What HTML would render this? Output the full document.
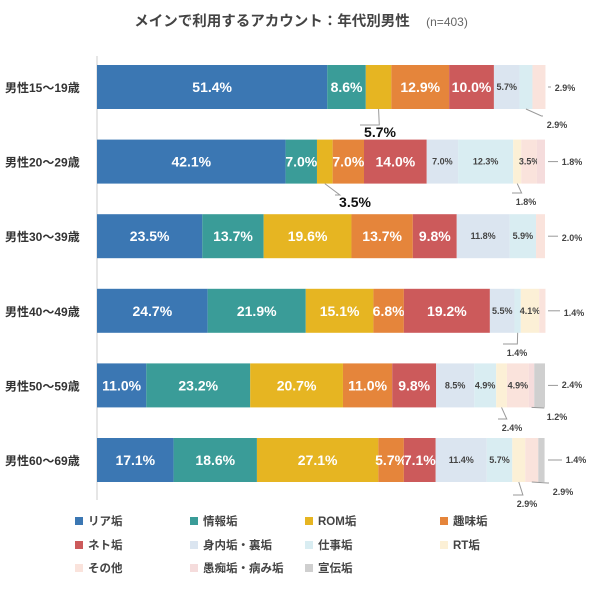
<!DOCTYPE html>
<html><head><meta charset="utf-8"><style>
body{margin:0;background:#fff;font-family:"Liberation Sans","Noto Sans CJK JP",sans-serif;}
svg text{font-family:"Liberation Sans","Noto Sans CJK JP",sans-serif;}
</style></head><body>
<svg id="chart" width="600" height="588" viewBox="0 0 600 588" xmlns="http://www.w3.org/2000/svg">
<rect width="600" height="588" fill="#fff"/>
<text x="272" y="26" text-anchor="middle" font-size="14.5" font-weight="bold" fill="#444">メインで利用するアカウント：年代別男性</text>
<text x="447" y="26" text-anchor="middle" font-size="12" fill="#666">(n=403)</text>
<line x1="97" y1="56" x2="97" y2="500" stroke="#ccc" stroke-width="1"/>
<g id="bars"></g>
<g id="legend"></g>
</svg>
<script>
const rows = ["男性15〜19歳","男性20〜29歳","男性30〜39歳","男性40〜49歳","男性50〜59歳","男性60〜69歳"];
const categories = ["リア垢","情報垢","ROM垢","趣味垢","ネト垢","身内垢・裏垢","仕事垢","RT垢","その他","愚痴垢・病み垢","宣伝垢"];
const colors = ["#3b77b3","#3a9c98","#e6b522","#e5853b","#cc5a5b","#dbe5f0","#d9edf2","#fcf0d6","#fae3dc","#f5dcdc","#cfcfcf"];
const v0 = [51.4,8.6,5.7,12.9,10.0,5.7,2.9,0,2.9,0,0];
const v1 = [42.1,7.0,3.5,7.0,14.0,7.0,12.3,1.8,3.5,1.8,0];
const v2 = [23.5,13.7,19.6,13.7,9.8,11.8,5.9,0,2.0,0,0];
const v3 = [24.7,21.9,15.1,6.8,19.2,5.5,1.4,4.1,1.4,0,0];
const v4 = [11.0,23.2,20.7,11.0,9.8,8.5,4.9,2.4,4.9,1.2,2.4];
const v5 = [17.1,18.6,27.1,5.7,7.1,11.4,5.7,2.9,2.9,0,1.4];
const values = [v0,v1,v2,v3,v4,v5];
// callouts: [row, category, text x, text y, big]
const callouts = [
 [0,2,380,137,1],[0,6,557,128,0],[0,8,565,91,0],
 [1,2,355,207,1],[1,7,526,205,0],[1,9,572,165,0],
 [2,8,572,241,0],
 [3,6,517,356,0],[3,8,574,316,0],
 [4,7,512,431,0],[4,9,557,420,0],[4,10,572,388,0],
 [5,10,576,463,0],[5,7,527,507,0],[5,8,563,495,0]
];
const NS="http://www.w3.org/2000/svg";
const X0=97, W=448, Y0=65, STEP=74.6, BH=44;
const xs = v => v/100*W;
const ry = i => Y0 + i*STEP;
const g=document.getElementById('bars');
function mk(t,a){const e=document.createElementNS(NS,t);for(const k in a)e.setAttribute(k,a[k]);return e;}
const isCall=(r,c)=>callouts.some(o=>o[0]===r&&o[1]===c);
const segX = (r,c)=>{let s=0;for(let k=0;k<c;k++)s+=values[r][k];return X0+xs(s);};
rows.forEach((name,r)=>{
  const lab=mk('text',{x:5,y:ry(r)+BH/2+5,'font-size':12,'font-weight':'bold',fill:'#333'});
  lab.textContent=name;
  
  
  g.appendChild(lab);
  values[r].forEach((v,c)=>{
    if(v<=0)return;
    const x=segX(r,c), w=xs(v);
    const rect=mk('rect',{x:x,y:ry(r),width:w,height:BH,fill:colors[c]});
    
    
    g.appendChild(rect);
    if(!isCall(r,c) && v>=3.5){
      const dark=c>=5;
      const t=mk('text',{x:x+w/2,y:ry(r)+BH/2+(dark?3:5),'text-anchor':'middle','font-size':dark?9:14,'font-weight':'bold',fill:dark?'#444':'#fff'});
      t.textContent=v.toFixed(1)+'%';
      
      
      g.appendChild(t);
    }
  });
});
callouts.forEach(o=>{
  const [r,c,tx,ty,big]=o;
  const v=values[r][c];
  const sx=segX(r,c)+xs(v)/2;
  const bottom=ty>ry(r)+BH;
  let l;
  if(bottom){ l=mk('polyline',{points:`${sx},${ry(r)+BH} ${sx+ (tx-sx)*0.5},${ty-12} ${tx-(big?20:14)},${ty-12}`,fill:'none',stroke:'#999','stroke-width':1}); }
  else { l=mk('line',{x1:X0+W+3,y1:ry(r)+BH/2,x2:tx-14,y2:ry(r)+BH/2,stroke:'#999','stroke-width':1}); }
  
  
  g.appendChild(l);
  const t=mk('text',{x:tx,y:ty,'text-anchor':'middle','font-size':big?14:9,'font-weight':'bold',fill:big?'#111':'#444'});
  t.textContent=v.toFixed(1)+'%';
  
  
  g.appendChild(t);
});
const lg=document.getElementById('legend');
const lx=[75,190,305,440], lyy=[521,545,568];
categories.forEach((n,i)=>{
  const x=lx[i%4], y=lyy[Math.floor(i/4)];
  const grp=mk('g',{});
  
  
  grp.appendChild(mk('rect',{x:x,y:y-4,width:8,height:8,fill:colors[i]}));
  const t=mk('text',{x:x+13,y:y+4,'font-size':11.5,'font-weight':'bold',fill:'#444'});
  t.textContent=n;
  grp.appendChild(t);
  lg.appendChild(grp);
});
</script>
</body></html>
